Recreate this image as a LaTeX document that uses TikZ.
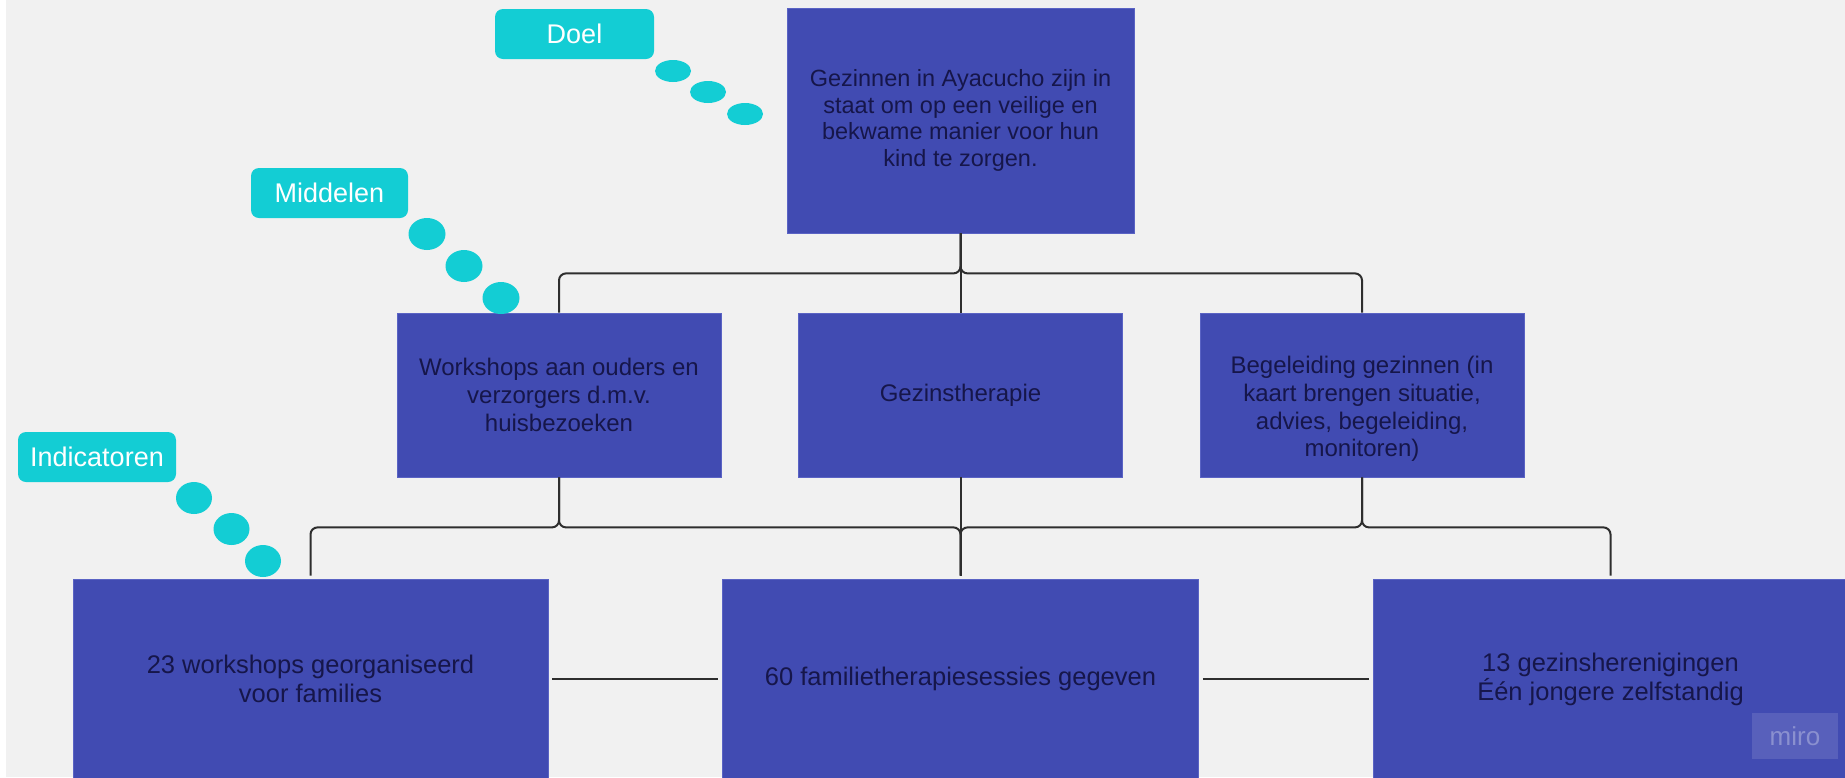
\documentclass[tikz,border=0pt]{standalone}
\usepackage{fontspec}
\setmainfont{Liberation Sans}
\usepackage{tikz}
\definecolor{C414BB2}{HTML}{414BB2}
\definecolor{C5A63C4}{HTML}{5A63C4}
\definecolor{C13CDD4}{HTML}{13CDD4}
\definecolor{C16164A}{HTML}{16164A}
\definecolor{CF1F1F1}{HTML}{F1F1F1}
\definecolor{C2E2E2E}{HTML}{2E2E2E}

\begin{document}
\begin{tikzpicture}[inner sep=0pt,
  box/.style={shape=rectangle, fill=C414BB2, draw=C5A63C4, line width=0.8pt, align=center, text=C16164A},
  tag/.style={shape=rectangle, fill=C13CDD4, rounded corners=8pt, minimum height=50pt, text=white, align=center, font=\fontsize{27}{30}\selectfont},
  link/.style={draw=C2E2E2E, line width=2pt, rounded corners=7pt}]
\useasboundingbox (0,0) rectangle (1845pt,-777pt);
\clip (0,0) rectangle (1845pt,-777pt);
\fill[white] (0,0) rectangle (1845pt,-777pt);
\fill[CF1F1F1] (6pt,0) rectangle (1845pt,-777pt);

% doel
\node (n0) [box, minimum width=347pt, minimum height=225pt, at={(960.5pt,-120.5pt)}, font=\fontsize{23.5}{26.5}\selectfont] {Gezinnen in Ayacucho zijn in\\staat om op een veilige en\\bekwame manier voor hun\\kind te zorgen.};

% middelen
\node (n1) [box, minimum width=324pt, minimum height=164pt, at={(559pt,-395pt)}, font=\fontsize{24}{27.6}\selectfont] {Workshops aan ouders en\\verzorgers d.m.v.\\huisbezoeken};
\node (n2) [box, minimum width=324pt, minimum height=164pt, at={(960.5pt,-395pt)}, font=\fontsize{24}{27.6}\selectfont] {Gezinstherapie};
\node (n3) [box, minimum width=324pt, minimum height=164pt, at={(1362pt,-395pt)}] {};
\node (n3t) [align=center, text=C16164A, at={(1362pt,-409pt)}, font=\fontsize{24}{27.6}\selectfont] {Begeleiding gezinnen (in\\kaart brengen situatie,\\advies, begeleiding,\\monitoren)};

% indicatoren
\node (n4) [box, minimum width=475pt, minimum height=200pt, at={(310.5pt,-679pt)}, font=\fontsize{25.5}{29}\selectfont] {23 workshops georganiseerd\\voor families};
\node (n5) [box, minimum width=476pt, minimum height=200pt, at={(960.5pt,-679pt)}, font=\fontsize{25.5}{29}\selectfont] {60 familietherapiesessies gegeven};
\node (n6) [box, minimum width=475pt, minimum height=200pt, at={(1610.5pt,-679pt)}, font=\fontsize{25.5}{29}\selectfont] {13 gezinsherenigingen\\Één jongere zelfstandig};

% labels
\node (t0) [tag, minimum width=159pt, at={(574.5pt,-34pt)}] {Doel};
\fill[C13CDD4] (673pt,-71pt) ellipse (18pt and 11pt);
\fill[C13CDD4] (708pt,-92pt) ellipse (18pt and 11pt);
\fill[C13CDD4] (745pt,-114pt) ellipse (18pt and 11pt);

\node (t1) [tag, minimum width=157pt, at={(329.5pt,-193pt)}] {Middelen};
\fill[C13CDD4] (427pt,-234pt) ellipse (18.5pt and 16pt);
\fill[C13CDD4] (464pt,-266pt) ellipse (18.5pt and 16pt);
\fill[C13CDD4] (501pt,-298pt) ellipse (18.5pt and 16pt);

\node (t2) [tag, minimum width=158pt, at={(97pt,-457pt)}] {Indicatoren};
\fill[C13CDD4] (194pt,-498pt) ellipse (18pt and 16pt);
\fill[C13CDD4] (231.5pt,-529pt) ellipse (18pt and 16pt);
\fill[C13CDD4] (263pt,-561pt) ellipse (18pt and 16pt);

% verbindingen
\path [link] (n0.south) -- ++(0,-40pt) -| (n1.north);
\path [link] (n0.south) -- (n2.north);
\path [link] (n0.south) -- ++(0,-40pt) -| (n3.north);

\path [link, shorten >=3pt] (n1.south) -- ++(0,-50pt) -| (n4.north);
\path [link, shorten >=3pt] (n1.south) -- ++(0,-50pt) -| (n5.north);
\path [link, shorten >=3pt] (n2.south) -- (n5.north);
\path [link, shorten >=3pt] (n3.south) -- ++(0,-50pt) -| (n5.north);
\path [link, shorten >=3pt] (n3.south) -- ++(0,-50pt) -| (n6.north);

\path [link, shorten <=4pt, shorten >=4pt] (n4.east) -- (n5.west);
\path [link, shorten <=4pt, shorten >=4pt] (n5.east) -- (n6.west);

\node (m0) [minimum width=86pt, minimum height=46pt, fill=white, fill opacity=0.12, text=white, text opacity=0.3, at={(1795pt,-736pt)}, font=\fontsize{26}{28}\selectfont] {miro};
\end{tikzpicture}
\end{document}
